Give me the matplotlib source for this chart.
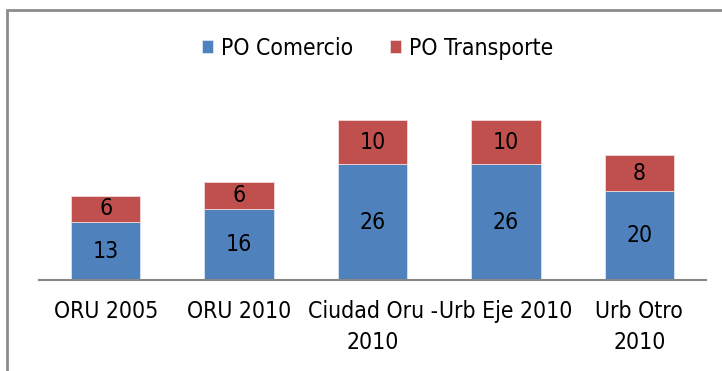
import matplotlib.pyplot as plt
from matplotlib.patches import Rectangle
import numpy as np

categories = ["ORU 2005", "ORU 2010", "Ciudad Oru -\n2010", "Urb Eje 2010", "Urb Otro\n2010"]
comercio = [13, 16, 26, 26, 20]
transporte = [6, 6, 10, 10, 8]

BLUE = "#4F81BD"
RED = "#C0504D"
FS = 16.5

plt.rcParams["font.family"] = ["Liberation Sans Narrow", "DejaVu Sans"]
plt.rcParams["font.stretch"] = "condensed"

fig = plt.figure(figsize=(7.22, 3.71), dpi=100)
ax = fig.add_axes([0.054, 0.245, 0.924, 0.48])

x = np.arange(len(categories))
w = 0.52
b1 = ax.bar(x, comercio, w, color=BLUE, edgecolor="#d9e3f0", linewidth=0.6, label="PO Comercio")
b2 = ax.bar(x, transporte, w, bottom=comercio, color=RED, edgecolor="#f0d9d9", linewidth=0.6,
            label="PO Transporte")

for bars, vals, bottoms in ((b1, comercio, [0] * len(comercio)), (b2, transporte, comercio)):
    for rect, v, b in zip(bars, vals, bottoms):
        ax.text(rect.get_x() + rect.get_width() / 2, b + v / 2, str(v),
                ha="center", va="center", fontsize=FS, color="black")

ax.set_xlim(-0.5, len(categories) - 0.5)
ax.set_ylim(0, 40)
ax.set_xticks(x)
ax.set_xticklabels(categories, fontsize=FS, linespacing=1.45)
ax.tick_params(axis="x", length=0, pad=14)
ax.set_yticks([])
for side in ("top", "right", "left"):
    ax.spines[side].set_visible(False)
ax.spines["bottom"].set_color("#878787")
ax.spines["bottom"].set_linewidth(1.5)

fig.legend(handles=[b1, b2], loc="center", bbox_to_anchor=(0.523, 0.87), ncol=2,
           frameon=False, fontsize=FS, handlelength=0.5, handleheight=0.5,
           handletextpad=0.35, columnspacing=1.6)

# outer chart frame, running off the right and bottom edges
fig.patches.append(Rectangle((7 / 722, -0.1), 1.0, 1.1 - 10 / 371, transform=fig.transFigure,
                             fill=False, edgecolor="#8c8c8c", linewidth=2))

fig.savefig("out.png", dpi=100)
